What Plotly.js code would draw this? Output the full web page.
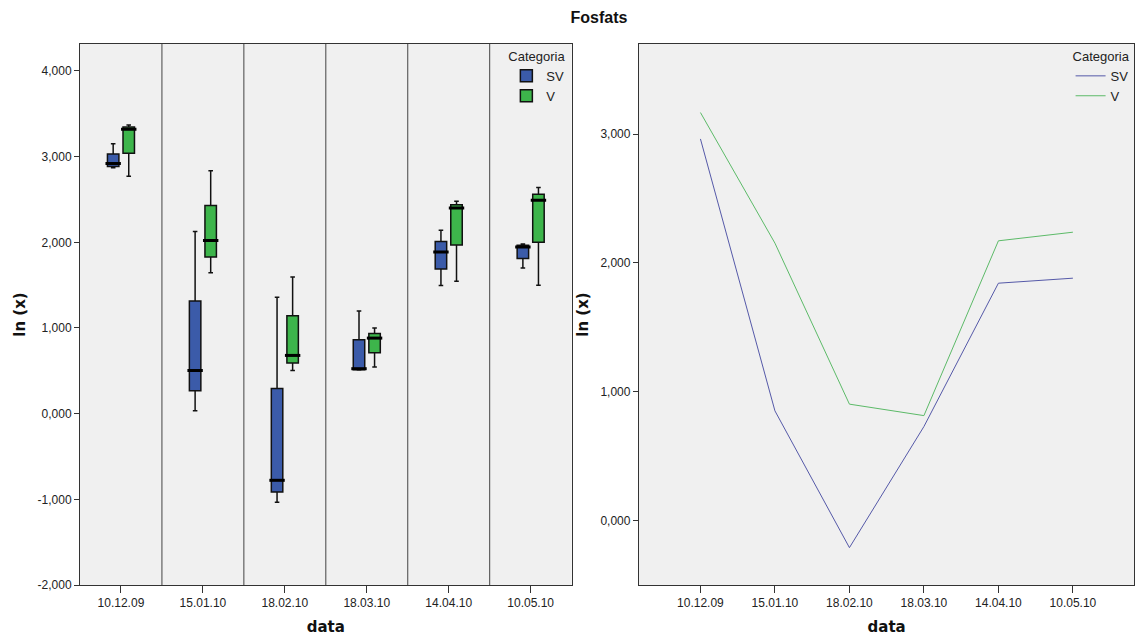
<!DOCTYPE html>
<html>
<head>
<meta charset="utf-8">
<script src="https://cdn.plot.ly/plotly-3.0.1.min.js"></script>
<style>html,body{margin:0;padding:0;background:#fff;}#chart{width:1141px;height:637px;}</style>
</head>
<body>
<div id="chart"></div>
<script>
// Categories (sampling dates)
const dates = ["10.12.09", "15.01.10", "18.02.10", "18.03.10", "14.04.10", "10.05.10"];
const groups = ["SV", "V"];

// Box plot statistics, SV
const svLower  = [2.87, 0.035, -1.035, 0.51, 1.497, 1.70];
const svQ1     = [2.885, 0.268, -0.915, 0.513, 1.69, 1.81];
const svMedian = [2.92, 0.505, -0.778, 0.525, 1.886, 1.945];
const svQ3     = [3.03, 1.314, 0.295, 0.863, 2.01, 1.965];
const svUpper  = [3.15, 2.127, 1.36, 1.197, 2.14, 1.98];

// Box plot statistics, V
const vLower  = [2.77, 1.645, 0.505, 0.544, 1.547, 1.50];
const vQ1     = [3.04, 1.83, 0.59, 0.712, 1.97, 2.00];
const vMedian = [3.32, 2.02, 0.68, 0.882, 2.40, 2.49];
const vQ3     = [3.345, 2.43, 1.143, 0.937, 2.44, 2.56];
const vUpper  = [3.37, 2.835, 1.595, 0.999, 2.48, 2.64];

// Means (line chart)
const svMean = [2.963, 0.852, -0.21, 0.73, 1.843, 1.882];
const vMean  = [3.168, 2.154, 0.904, 0.815, 2.172, 2.239];

const leftTicks = [-2, -1, 0, 1, 2, 3, 4];
const rightTicks = [0, 1, 2, 3];

const blue = "#3b5ba9", green = "#3db54b";
const lineBlue = "#5559a8", lineGreen = "#5cba68";
const idx = dates.map((d, i) => i);
const off = 0.095, bw = 0.14;
const fmt = v => v.toFixed(3).replace(".", ",");

function boxTrace(name, color, shift, lo, q1, med, q3, hi) {
  return {
    type: "box", name: name, legend: "legend",
    x: idx.map(i => i + shift),
    lowerfence: lo, q1: q1, median: med, q3: q3, upperfence: hi,
    width: bw, whiskerwidth: 0.4,
    fillcolor: color, line: {color: "#111", width: 1.5},
    xaxis: "x", yaxis: "y", hoverinfo: "skip"
  };
}
function medTrace(shift, med) {
  return {
    type: "scatter", mode: "markers", showlegend: false,
    x: idx.map(i => i + shift), y: med,
    marker: {symbol: "line-ew", size: 11, line: {width: 3, color: "#000"}},
    xaxis: "x", yaxis: "y", hoverinfo: "skip"
  };
}

const traces = [
  boxTrace(groups[0], blue, -off, svLower, svQ1, svMedian, svQ3, svUpper),
  boxTrace(groups[1], green, off, vLower, vQ1, vMedian, vQ3, vUpper),
  medTrace(-off, svMedian),
  medTrace(off, vMedian),
  {type: "scatter", mode: "lines", name: groups[0], x: dates, y: svMean,
   line: {color: lineBlue, width: 1}, xaxis: "x2", yaxis: "y2", legend: "legend2", hoverinfo: "skip"},
  {type: "scatter", mode: "lines", name: groups[1], x: dates, y: vMean,
   line: {color: lineGreen, width: 1}, xaxis: "x2", yaxis: "y2", legend: "legend2", hoverinfo: "skip"}
];

const shapes = idx.slice(0, -1).map(i => ({
  type: "line", xref: "x", yref: "y domain", x0: i + 0.5, x1: i + 0.5, y0: 0, y1: 1,
  line: {color: "#444", width: 1}, layer: "above"
}));

const axFont = {family: "Liberation Sans, Arial, sans-serif", size: 12, color: "#222"};
const titleFont = {family: "DejaVu Sans, Liberation Sans, sans-serif", size: 15, color: "#111", weight: "bold"};

const layout = {
  width: 1141, height: 637,
  margin: {l: 0, r: 0, t: 44, b: 52},
  paper_bgcolor: "#fff", plot_bgcolor: "#f0f0f0",
  font: {family: "Liberation Sans, Arial, sans-serif", size: 12, color: "#222"},
  title: {text: "<b>Fosfats</b>", x: 0.525, xanchor: "center", y: 0.972, yanchor: "middle",
          font: {family: "Liberation Sans, Arial, sans-serif", size: 16, color: "#111"}},
  boxmode: "overlay",
  showlegend: true,
  xaxis: {domain: [0.0701, 0.501], range: [-0.5, 5.5], tickvals: idx, ticktext: dates,
          showline: true, mirror: true, linecolor: "#333", linewidth: 1,
          ticks: "outside", ticklen: 7, tickcolor: "#333", showgrid: false, zeroline: false,
          tickfont: axFont, title: {text: "<b>data</b>", font: titleFont, standoff: 12}},
  yaxis: {domain: [0, 1], range: [-2, 4.315], tickvals: leftTicks, ticktext: leftTicks.map(fmt),
          showline: true, mirror: true, linecolor: "#333", linewidth: 1,
          ticks: "outside", ticklen: 5, tickcolor: "#333", showgrid: false, zeroline: false,
          tickfont: axFont, title: {text: "<b>ln (x)</b>", font: titleFont, standoff: 8}},
  xaxis2: {domain: [0.5599, 0.9943], range: [-0.827, 5.827], type: "category", anchor: "y2",
          showline: true, mirror: true, linecolor: "#333", linewidth: 1,
          ticks: "outside", ticklen: 7, tickcolor: "#333", showgrid: false, zeroline: false,
          tickfont: axFont, title: {text: "<b>data</b>", font: titleFont, standoff: 12}},
  yaxis2: {domain: [0, 1], range: [-0.5, 3.70], anchor: "x2", tickvals: rightTicks, ticktext: rightTicks.map(fmt),
          showline: true, mirror: true, linecolor: "#333", linewidth: 1,
          ticks: "outside", ticklen: 5, tickcolor: "#333", showgrid: false, zeroline: false,
          tickfont: axFont, title: {text: "<b>ln (x)</b>", font: titleFont, standoff: 8}},
  legend: {x: 0.499, xanchor: "right", y: 1, yanchor: "top", bgcolor: "rgba(0,0,0,0)",
           title: {text: "Categoria", font: {size: 13}}, font: {size: 13},
           itemwidth: 30, tracegroupgap: 0},
  legend2: {x: 0.9935, xanchor: "right", y: 1, yanchor: "top", bgcolor: "rgba(0,0,0,0)",
           title: {text: "Categoria", font: {size: 13}}, font: {size: 13},
           itemwidth: 30, tracegroupgap: 0},
  shapes: shapes
};

Plotly.newPlot("chart", traces, layout, {staticPlot: true, displayModeBar: false});
</script>
</body>
</html>
